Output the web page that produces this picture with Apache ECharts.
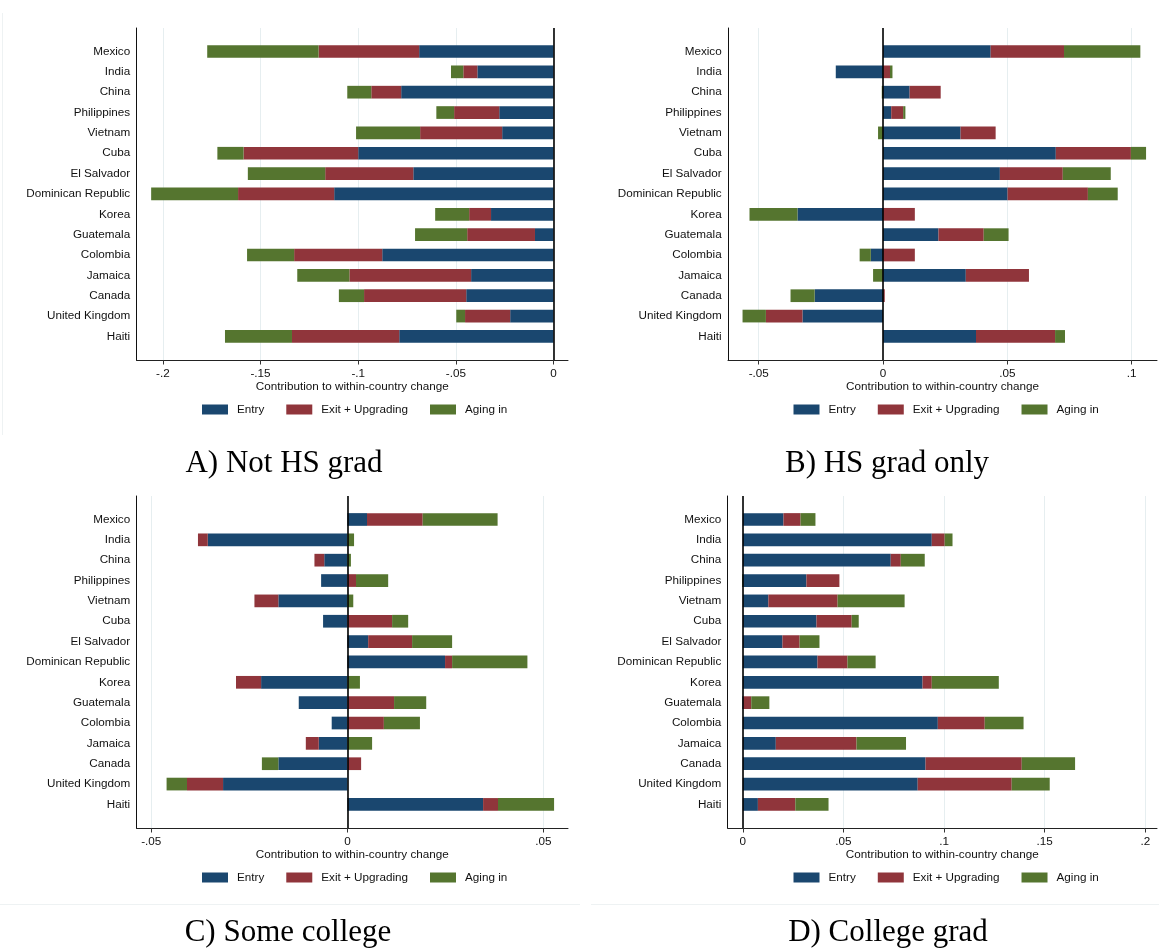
<!DOCTYPE html>
<html><head><meta charset="utf-8">
<script src="https://cdn.jsdelivr.net/npm/echarts@6/dist/echarts.min.js"></script>
<style>html,body{margin:0;padding:0;background:#fff}#c{width:1159px;height:952px}</style>
</head><body><div id="c"></div>
<script>
// ---------- data ----------
const countries = ['Mexico','India','China','Philippines','Vietnam','Cuba','El Salvador','Dominican Republic','Korea','Guatemala','Colombia','Jamaica','Canada','United Kingdom','Haiti'];
const seriesNames = ['Entry','Exit + Upgrading','Aging in'];

// A) Not HS grad
const entryA = [-0.0688,-0.0390,-0.0780,-0.0278,-0.0263,-0.1000,-0.0718,-0.1123,-0.0320,-0.0095,-0.0877,-0.0422,-0.0447,-0.0222,-0.0790];
const exitA  = [-0.0515,-0.0072,-0.0153,-0.0231,-0.0420,-0.0587,-0.0451,-0.0492,-0.0112,-0.0347,-0.0451,-0.0623,-0.0523,-0.0231,-0.0549];
const agingA = [-0.0570,-0.0063,-0.0123,-0.0091,-0.0328,-0.0134,-0.0396,-0.0445,-0.0174,-0.0267,-0.0241,-0.0267,-0.0129,-0.0045,-0.0343];

// B) HS grad only
const entryB = [0.0433,-0.0190,0.0107,0.0033,0.0312,0.0695,0.0470,0.0501,-0.0344,0.0223,-0.0049,0.0333,-0.0275,-0.0324,0.0374];
const exitB  = [0.0295,0.0028,0.0125,0.0048,0.0141,0.0302,0.0253,0.0323,0.0128,0.0182,0.0128,0.0254,0.0007,-0.0147,0.0318];
const agingB = [0.0307,0.0010,-0.0005,0.0009,-0.0020,0.0061,0.0193,0.0120,-0.0193,0.0100,-0.0045,-0.0040,-0.0097,-0.0094,0.0040];

// C) Some college
const entryC = [0.0050,-0.0356,-0.0059,-0.0067,-0.0176,-0.0062,0.0053,0.0249,-0.0220,-0.0124,-0.0040,-0.0073,-0.0176,-0.0317,0.0346];
const exitC  = [0.0142,-0.0025,-0.0025,0.0022,-0.0061,0.0114,0.0112,0.0018,-0.0064,0.0119,0.0093,-0.0033,0.0035,-0.0092,0.0038];
const agingC = [0.0191,0.0017,0.0009,0.0082,0.0015,0.0041,0.0102,0.0192,0.0032,0.0082,0.0092,0.0063,-0.0042,-0.0052,0.0143];

// D) College grad
const entryD = [0.0202,0.0939,0.0735,0.0316,0.0127,0.0366,0.0197,0.0371,0.0893,-0.0003,0.0969,0.0164,0.0908,0.0869,0.0075];
const exitD  = [0.0085,0.0064,0.0050,0.0164,0.0344,0.0175,0.0085,0.0149,0.0046,0.0042,0.0233,0.0401,0.0478,0.0467,0.0186];
const agingD = [0.0074,0.0039,0.0119,-0.0004,0.0333,0.0035,0.0099,0.0140,0.0333,0.0090,0.0193,0.0246,0.0265,0.0189,0.0165];

const ticksA = [-0.2,-0.15,-0.1,-0.05,0];
const tickLabelsA = ['-.2','-.15','-.1','-.05','0'];
const ticksB = [-0.05,0,0.05,0.1];
const tickLabelsB = ['-.05','0','.05','.1'];
const ticksC = [-0.05,0,0.05];
const tickLabelsC = ['-.05','0','.05'];
const ticksD = [0,0.05,0.1,0.15,0.2];
const tickLabelsD = ['0','.05','.1','.15','.2'];

const panelTitles = ['A) Not HS grad','B) HS grad only','C) Some college','D) College grad'];
const axisTitle = 'Contribution to within-country change';

// ---------- layout / style ----------
const colors = ['#1a476f','#90353b','#55752f'];
const SANS = '"Liberation Sans", Arial, sans-serif';
const FS = 11.7;

const panels = [
  {data:[entryA,exitA,agingA], ticks:ticksA, labels:tickLabelsA, left:136.5, width:431.5, top:28,  min:-0.2135, max:0.0074, titleX:284, titleTop:446, legendX:202,   legendTop:403.5},
  {data:[entryB,exitB,agingB], ticks:ticksB, labels:tickLabelsB, left:728,   width:429,   top:28,  min:-0.06235, max:0.1102, titleX:887, titleTop:446, legendX:793.5, legendTop:403.5},
  {data:[entryC,exitC,agingC], ticks:ticksC, labels:tickLabelsC, left:136.5, width:431.5, top:496, min:-0.05377, max:0.05625, titleX:288, titleTop:914.5, legendX:202,   legendTop:871.5},
  {data:[entryD,exitD,agingD], ticks:ticksD, labels:tickLabelsD, left:727.6, width:429.4, top:496, min:-0.00755, max:0.2058, titleX:888, titleTop:914.5, legendX:793.5, legendTop:871.5}
];
const FRAME_H = 332, DATA_OFF = 13.3, DATA_H = 305.3;

const grid = [], xAxis = [], yAxis = [], series = [], legend = [], title = [];
panels.forEach((p, i) => {
  const fi = 2*i, di = 2*i+1;
  grid.push({left:p.left, width:p.width, top:p.top, height:FRAME_H, containLabel:false});
  grid.push({left:p.left, width:p.width, top:p.top+DATA_OFF, height:DATA_H, containLabel:false});
  const labs = p.labels, tks = p.ticks;
  xAxis.push({
    type:'value', gridIndex:fi, min:p.min, max:p.max,
    axisLine:{show:true, onZero:false, lineStyle:{color:'#222', width:1}},
    axisTick:{show:true, length:4.5, customValues:tks, lineStyle:{color:'#333', width:1}},
    axisLabel:{customValues:tks, margin:8, color:'#111', fontFamily:SANS, fontSize:FS,
      formatter:(v)=>{ let k=0,b=1e9; tks.forEach((t,j)=>{const d=Math.abs(t-v); if(d<b){b=d;k=j;}}); return labs[k]; }},
    splitLine:{show:true, lineStyle:{color:'#e6eef0', width:1}},
    name:axisTitle, nameLocation:'middle', nameGap:20.5,
    nameTextStyle:{color:'#111', fontFamily:SANS, fontSize:FS}
  });
  xAxis.push({type:'value', gridIndex:di, min:p.min, max:p.max, show:false, splitLine:{show:false}});
  yAxis.push({type:'value', gridIndex:fi, min:0, max:1, position:'left',
    axisLine:{show:true, onZero:false, lineStyle:{color:'#111', width:1}},
    axisTick:{show:false}, axisLabel:{show:false}, splitLine:{show:false}});
  yAxis.push({type:'category', gridIndex:di, data:countries, inverse:true,
    axisLine:{show:false}, axisTick:{show:false}, splitLine:{show:false},
    axisLabel:{margin:6.3, color:'#111', fontFamily:SANS, fontSize:FS}});
  p.data.forEach((vals, s) => {
    series.push({
      type:'bar', name:seriesNames[s], stack:'p'+i, xAxisIndex:di, yAxisIndex:di,
      data:vals, barWidth:12.7, itemStyle:{color:colors[s]},
      emphasis:{disabled:true}, silent:true
    });
  });
  series.push({
    type:'line', name:'zero'+i, xAxisIndex:fi, yAxisIndex:fi, data:[[0,0.5]],
    showSymbol:false, lineStyle:{opacity:0}, silent:true, z:5,
    markLine:{silent:true, symbol:['none','none'], label:{show:false},
      lineStyle:{color:'#000', width:1.6, type:'solid'}, data:[{xAxis:0}]}
  });
  legend.push({
    data:seriesNames, left:p.legendX, top:p.legendTop, orient:'horizontal',
    icon:'rect', itemWidth:26, itemHeight:10, itemGap:22, padding:0,
    selectedMode:false,
    textStyle:{color:'#111', fontFamily:SANS, fontSize:FS, padding:[0,0,0,4]}
  });
  title.push({
    text:panelTitles[i], left:p.titleX, top:p.titleTop, textAlign:'center', padding:0,
    textStyle:{fontFamily:'"Liberation Serif", "Times New Roman", serif', fontWeight:'normal', fontSize:31, lineHeight:36, color:'#000'}
  });
});

const chart = echarts.init(document.getElementById('c'), null, {renderer:'canvas'});
chart.setOption({
  backgroundColor:'#fff',
  animation:false,
  title, grid, xAxis, yAxis, series, legend,
  graphic:[
    {type:'line', shape:{x1:2.5,y1:13,x2:2.5,y2:435}, style:{stroke:'#eef2f3', lineWidth:1}, silent:true},
    {type:'line', shape:{x1:0,y1:904.5,x2:580,y2:904.5}, style:{stroke:'#eef2f3', lineWidth:1}, silent:true},
    {type:'line', shape:{x1:591,y1:904.5,x2:1159,y2:904.5}, style:{stroke:'#eef2f3', lineWidth:1}, silent:true}
  ]
});
</script>
</body></html>
